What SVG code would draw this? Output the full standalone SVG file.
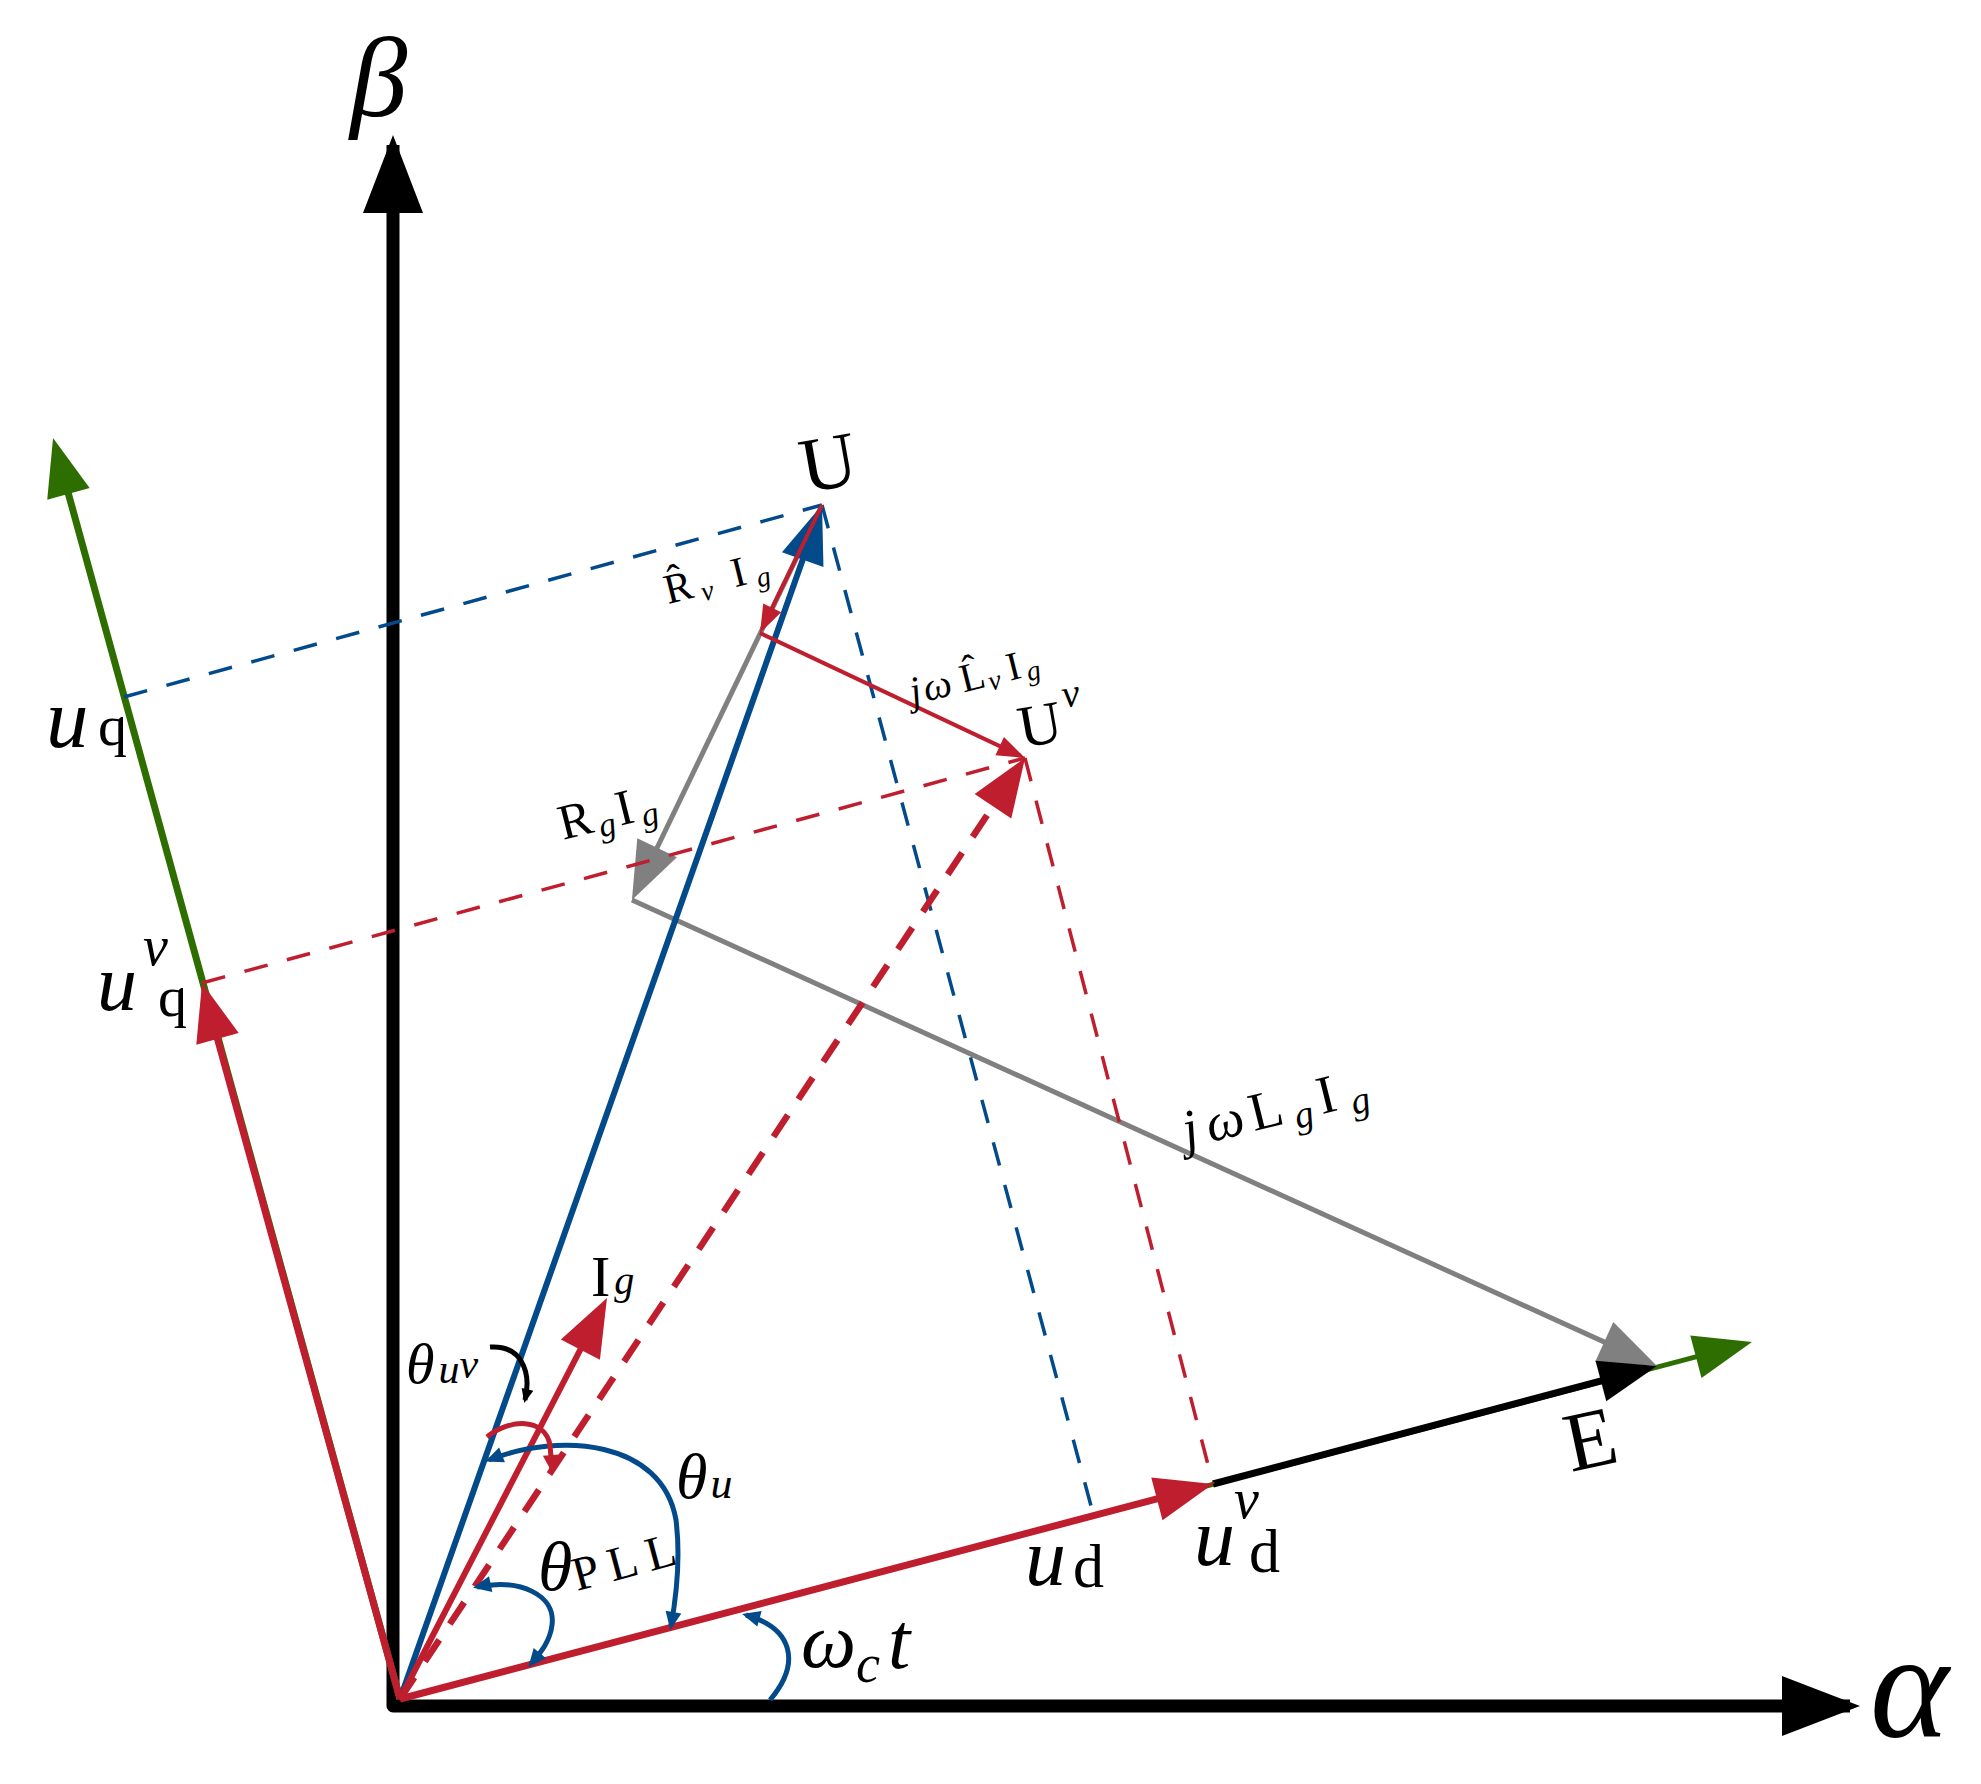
<svg xmlns="http://www.w3.org/2000/svg" width="1981" height="1784" viewBox="0 0 1981 1784">
<style>
.t{font-family:"Liberation Serif","DejaVu Serif",serif;fill:#000}
.it{font-style:italic}
.rm{font-style:normal}
.v{fill:none;stroke-linecap:butt}
.red{stroke:#BE1E2D}
.blue{stroke:#034A8A}
.gray{stroke:#808080}
.green{stroke:#2E6E00}
.blk{stroke:#000}
.dash{stroke-width:3.5;stroke-dasharray:24 20;fill:none}
.arc{fill:none;stroke-width:5}
</style>
<defs>
<marker id="mAxis" markerUnits="userSpaceOnUse" markerWidth="1" markerHeight="1" refX="0" refY="0" orient="auto-start-reverse" overflow="visible"><path d="M-68,-30 L10,0 L-68,30 z" fill="#000"/></marker>
<marker id="mBlk" markerUnits="userSpaceOnUse" markerWidth="1" markerHeight="1" refX="0" refY="0" orient="auto" overflow="visible"><path d="M-48,-21 L10,0 L-48,21 z" fill="#000"/></marker>
<marker id="mRed" markerUnits="userSpaceOnUse" markerWidth="1" markerHeight="1" refX="0" refY="0" orient="auto" overflow="visible"><path d="M-48,-22 L10,0 L-48,22 z" fill="#BE1E2D"/></marker>
<marker id="mBlue" markerUnits="userSpaceOnUse" markerWidth="1" markerHeight="1" refX="0" refY="0" orient="auto" overflow="visible"><path d="M-48,-22 L10,0 L-48,22 z" fill="#034A8A"/></marker>
<marker id="mGray" markerUnits="userSpaceOnUse" markerWidth="1" markerHeight="1" refX="0" refY="0" orient="auto" overflow="visible"><path d="M-48,-22 L10,0 L-48,22 z" fill="#808080"/></marker>
<marker id="mGreen" markerUnits="userSpaceOnUse" markerWidth="1" markerHeight="1" refX="0" refY="0" orient="auto" overflow="visible"><path d="M-48,-22 L10,0 L-48,22 z" fill="#2E6E00"/></marker>
<marker id="mRedS" markerUnits="userSpaceOnUse" markerWidth="1" markerHeight="1" refX="0" refY="0" orient="auto" overflow="visible"><path d="M-23,-10 L5,0 L-23,10 z" fill="#BE1E2D"/></marker>
<marker id="mArcBlue" markerUnits="userSpaceOnUse" markerWidth="1" markerHeight="1" refX="0" refY="0" orient="auto-start-reverse" overflow="visible"><path d="M-14,-8 L4,0 L-14,8 z" fill="#034A8A"/></marker>
<marker id="mArcRed" markerUnits="userSpaceOnUse" markerWidth="1" markerHeight="1" refX="0" refY="0" orient="auto" overflow="visible"><path d="M-14,-8 L4,0 L-14,8 z" fill="#BE1E2D"/></marker>
<marker id="mArcBlk" markerUnits="userSpaceOnUse" markerWidth="1" markerHeight="1" refX="0" refY="0" orient="auto" overflow="visible"><path d="M-11,-6 L3,0 L-11,6 z" fill="#000"/></marker>
</defs>
<rect width="1981" height="1784" fill="#fff"/>

<g id="axes">
<path d="M393,145 L393,1706 L1850,1706" fill="none" stroke="#000" stroke-width="13" stroke-linejoin="round" marker-start="url(#mAxis)" marker-end="url(#mAxis)"/>
</g>

<g id="connectors">
<g id="dq-axes">
<path class="v green" stroke-width="7" d="M400,1699 L55.7,447.6" marker-end="url(#mGreen)"/>
<path class="v green" stroke-width="5" d="M400,1699 L1742.3,1344.6" marker-end="url(#mGreen)"/>
</g>
<g id="grid-impedance">
<path class="v gray" stroke-width="5" d="M822,505 L636.3,891" marker-end="url(#mGray)"/>
<path class="v gray" stroke-width="5" d="M632,900 L1647.9,1361.9" marker-end="url(#mGray)"/>
</g>
<g id="vector-U">
<path class="v blue" stroke-width="6" d="M400,1699 L818.7,514.4" marker-end="url(#mBlue)"/>
</g>
<g id="vector-E">
<path class="v blk" stroke-width="7" d="M1213,1484 L1647.3,1368.6" marker-end="url(#mBlk)"/>
</g>
<g id="projections">
<path class="dash blue" d="M124,697 L822,505"/>
<path class="dash blue" d="M822,505 L1094,1517"/>
<path class="dash red" d="M202,983 L1025,758"/>
<path class="dash red" d="M1025,758 L1213,1484"/>
</g>
<g id="red-vectors">
<path class="v red" stroke-width="7" d="M400,1699 L1203.3,1486.6" marker-end="url(#mRed)"/>
<path class="v red" stroke-width="7" d="M400,1699 L204.7,992.6" marker-end="url(#mRed)"/>
<path class="v red" stroke-width="6" d="M400,1699 L602.4,1306.9" marker-end="url(#mRed)"/>
<path class="v red" stroke-width="4" d="M822,505 L762.2,628.5" marker-end="url(#mRedS)"/>
<path class="v red" stroke-width="4" d="M760,633 L1020.5,755.9" marker-end="url(#mRedS)"/>
<path class="v red" stroke-width="6.5" stroke-dasharray="26 19" d="M400,1699 L1019.5,766.3" marker-end="url(#mRed)"/>
</g>
<g id="angles">
<path class="arc blue" d="M489,1460 C560,1432 662,1440 676,1520 C681,1560 676,1598 671,1626" marker-start="url(#mArcBlue)" marker-end="url(#mArcBlue)"/>
<path class="arc blue" d="M477,1587 C520,1578 556,1595 552,1625 C550,1642 540,1653 531,1664" marker-start="url(#mArcBlue)" marker-end="url(#mArcBlue)"/>
<path class="arc blue" d="M746,1615 C792,1628 802,1662 770,1700" marker-start="url(#mArcBlue)"/>
<path class="arc red" d="M487,1437 C510,1418 545,1418 550,1445 L552,1469" marker-end="url(#mArcRed)"/>
<path class="arc blk" stroke-width="3.5" d="M490,1347 C520,1345 532,1370 525,1400" marker-end="url(#mArcBlk)"/>
</g>
</g>

<g id="labels">
<text class="t it" x="350" y="116" font-size="115">β</text>
<text class="t it" x="1870" y="1737" font-size="150">α</text>
<text class="t" transform="translate(805,493) rotate(-10)" font-size="78">U</text>
<text class="t" transform="translate(1022,748) rotate(-10)"><tspan font-size="60">U</tspan><tspan class="it" font-size="40" dx="5" dy="-32">v</tspan></text>
<text class="t" transform="translate(1571,1472) rotate(-12)" font-size="84">E</text>
<text class="t" transform="translate(668,604) rotate(-14)" font-size="42"><tspan x="0" y="0">R&#x302;</tspan><tspan class="it" x="35" y="6" font-size="28">v</tspan><tspan x="69" y="0">I</tspan><tspan class="it" x="92" y="6" font-size="28">g</tspan></text>
<text class="t" transform="translate(913,705) rotate(-14)" font-size="40"><tspan class="it" x="0" y="0">j</tspan><tspan class="it" x="14" y="0">ω</tspan><tspan x="52" y="0">L&#x302;</tspan><tspan class="it" x="79" y="5" font-size="28">v</tspan><tspan x="100" y="0">I</tspan><tspan class="it" x="118" y="5" font-size="28">g</tspan></text>
<text class="t" transform="translate(563,840) rotate(-14)" font-size="50"><tspan x="0" y="0">R</tspan><tspan class="it" x="38" y="7" font-size="34">g</tspan><tspan x="59" y="0">I</tspan><tspan class="it" x="82" y="7" font-size="34">g</tspan></text>
<text class="t" transform="translate(1187,1148) rotate(-14)" font-size="54"><tspan class="it" x="0" y="0">j</tspan><tspan class="it" x="24" y="0">ω</tspan><tspan x="69" y="0">L</tspan><tspan class="it" x="112" y="8" font-size="38">g</tspan><tspan x="139" y="0">I</tspan><tspan class="it" x="170" y="8" font-size="38">g</tspan></text>
<text class="t" x="591" y="1296" font-size="58">I<tspan class="it" font-size="40" dx="4" dy="-2">g</tspan></text>
<text class="t it" x="406" y="1383" font-size="58">θ<tspan font-size="42" dx="4">u</tspan><tspan font-size="42" dy="-5">v</tspan></text>
<text class="t it" x="676" y="1498" font-size="64">θ<tspan font-size="44" dx="3">u</tspan></text>
<text class="t it" x="538" y="1590" font-size="70">θ</text>
<text class="t" transform="translate(577,1591) rotate(-15)" font-size="48" letter-spacing="10">PLL</text>
<text class="t it" x="801" y="1667" font-size="78">ω<tspan font-size="54" dy="15">c</tspan><tspan font-size="80" dx="8" dy="-14">t</tspan></text>
<text class="t" font-size="85"><tspan class="it" x="46" y="747">u</tspan><tspan class="rm" x="98" y="745" font-size="58">q</tspan></text>
<text class="t" font-size="80"><tspan class="it" x="97" y="1010">u</tspan><tspan class="it" x="143" y="965" font-size="56">v</tspan><tspan class="rm" x="158" y="1016" font-size="58">q</tspan></text>
<text class="t" font-size="82"><tspan class="it" x="1025" y="1585">u</tspan><tspan class="rm" x="1073" y="1587" font-size="62">d</tspan></text>
<text class="t" font-size="82"><tspan class="it" x="1194" y="1565">u</tspan><tspan class="it" x="1234" y="1518" font-size="56">v</tspan><tspan class="rm" x="1249" y="1572" font-size="62">d</tspan></text>
</g>
</svg>
